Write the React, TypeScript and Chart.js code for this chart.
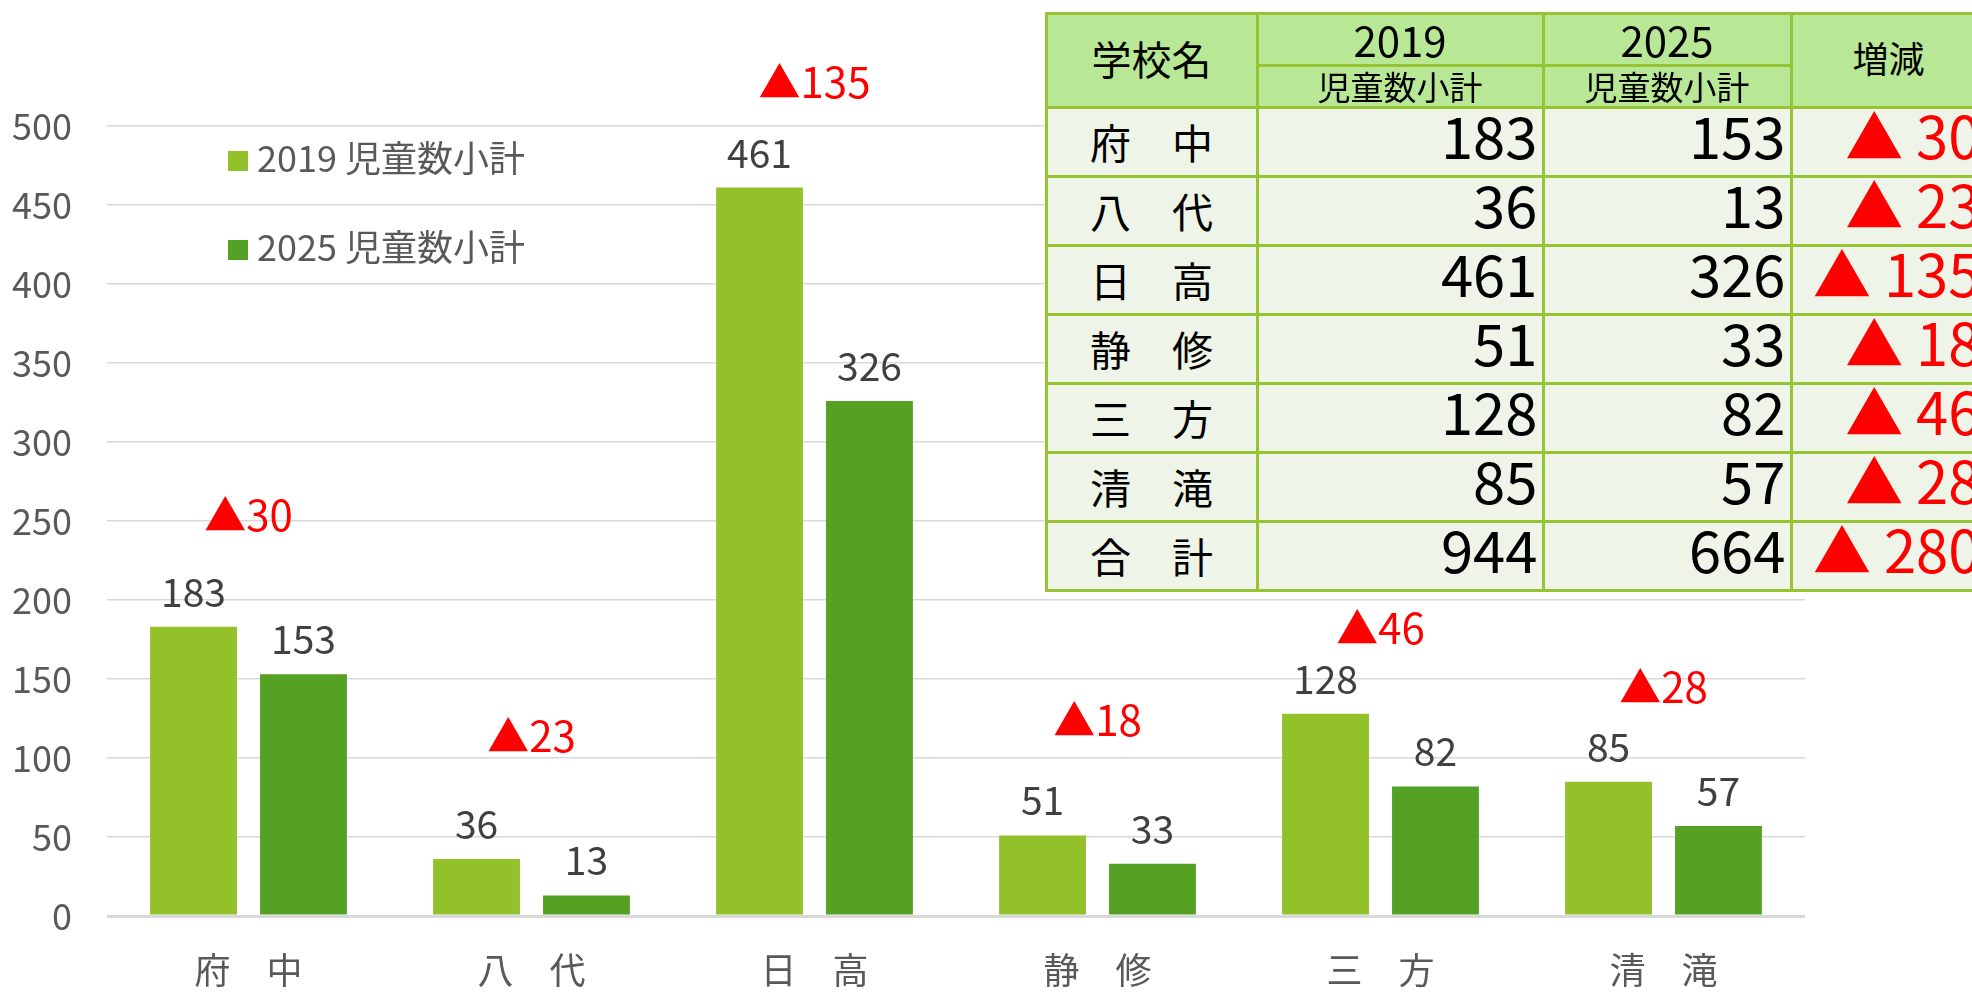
import React, { useEffect, useRef } from "react";
import { Chart, registerables } from "chart.js";

Chart.register(...registerables);

const categories = ["府　中", "八　代", "日　高", "静　修", "三　方", "清　滝"];
const series2019 = [183, 36, 461, 51, 128, 85];
const series2025 = [153, 13, 326, 33, 82, 57];
const seriesLabels = ["2019 児童数小計", "2025 児童数小計"];
const seriesColors = ["#92C12A", "#55A124"];
const deltaValues = [30, 23, 135, 18, 46, 28];
// value level (in axis units) at which each ▲ note sits above its group
const deltaAnchor = [254, 114, 528, 124, 182, 145];
const yMin = 0;
const yMax = 500;
const yStep = 50;

const tableNames = [...categories, "合　計"];
const table2019 = [...series2019, 944];
const table2025 = [...series2025, 664];
const tableDelta = [...deltaValues, 280];
const headerName = "学校名";
const headerYears = ["2019", "2025"];
const headerSub = "児童数小計";
const headerDelta = "増減";

const FONT = '"Noto Sans CJK JP", "Noto Sans", sans-serif';

const annotationPlugin = {
  id: "annotations",
  afterDatasetsDraw(chart: any) {
    const ctx = chart.ctx;
    ctx.save();
    // value labels
    ctx.font = `39px ${FONT}`;
    ctx.fillStyle = "#404040";
    ctx.textAlign = "center";
    ctx.textBaseline = "alphabetic";
    chart.data.datasets.forEach((ds: any, di: number) => {
      const meta = chart.getDatasetMeta(di);
      meta.data.forEach((bar: any, i: number) => {
        ctx.fillText(String(ds.data[i]), bar.x, bar.y - 20);
      });
    });
    // delta notes
    const xs = chart.scales.x;
    const ys = chart.scales.y;
    ctx.font = `42px ${FONT}`;
    ctx.fillStyle = "#FF0000";
    ctx.textBaseline = "middle";
    deltaValues.forEach((d, i) => {
      ctx.fillText("▲" + d, xs.getPixelForValue(i), ys.getPixelForValue(deltaAnchor[i]));
    });
    // legend
    ctx.font = `36px ${FONT}`;
    ctx.textAlign = "left";
    ctx.textBaseline = "alphabetic";
    chart.data.datasets.forEach((ds: any, di: number) => {
      const top = 151 + di * 89;
      ctx.fillStyle = ds.backgroundColor;
      ctx.fillRect(228, top, 20, 20);
      ctx.fillStyle = "#595959";
      ctx.fillText(ds.label, 257, top + 21);
    });
    ctx.restore();
  },
};

const colX = [1046, 1257, 1543, 1791, 1986];
const headY = [13, 65, 107];
const rowH = 69;
const BORDER = "#96C433";
const HEAD_BG = "#B8E896";
const BODY_BG = "#EEF4E8";

function Cell(props: any) {
  const { x0, x1, y0, y1, bg, children, style } = props;
  return (
    <div
      style={{
        position: "absolute",
        left: x0 + 1.5,
        top: y0 + 1.5,
        width: x1 - x0 - 3,
        height: y1 - y0 - 3,
        background: bg,
        display: "flex",
        alignItems: "center",
        justifyContent: "center",
        boxSizing: "border-box",
        color: "#000",
        fontFamily: FONT,
        whiteSpace: "nowrap",
        lineHeight: 1,
        ...style,
      }}
    >
      {children}
    </div>
  );
}

function DataTable() {
  const bodyTop = headY[2];
  const bottom = bodyTop + rowH * tableNames.length;
  const cells: any[] = [];
  cells.push(
    <Cell key="hn" x0={colX[0]} x1={colX[1]} y0={headY[0]} y1={headY[2]} bg={HEAD_BG} style={{ fontSize: 40, paddingBottom: 4 }}>
      {headerName}
    </Cell>
  );
  headerYears.forEach((yr, k) => {
    cells.push(
      <Cell key={"hy" + k} x0={colX[1 + k]} x1={colX[2 + k]} y0={headY[0]} y1={headY[1]} bg={HEAD_BG} style={{ fontSize: 42 }}>
        {yr}
      </Cell>
    );
    cells.push(
      <Cell key={"hs" + k} x0={colX[1 + k]} x1={colX[2 + k]} y0={headY[1]} y1={headY[2]} bg={HEAD_BG} style={{ fontSize: 33 }}>
        {headerSub}
      </Cell>
    );
  });
  cells.push(
    <Cell key="hd" x0={colX[3]} x1={colX[4]} y0={headY[0]} y1={headY[2]} bg={HEAD_BG} style={{ fontSize: 36, paddingBottom: 6 }}>
      {headerDelta}
    </Cell>
  );
  tableNames.forEach((name, r) => {
    const y0 = bodyTop + r * rowH;
    const y1 = y0 + rowH;
    cells.push(
      <Cell key={"n" + r} x0={colX[0]} x1={colX[1]} y0={y0} y1={y1} bg={BODY_BG} style={{ fontSize: 41 }}>
        {name}
      </Cell>
    );
    const numStyle = { fontSize: 58, justifyContent: "flex-end", paddingRight: 4, paddingBottom: 16 };
    cells.push(
      <Cell key={"a" + r} x0={colX[1]} x1={colX[2]} y0={y0} y1={y1} bg={BODY_BG} style={numStyle}>
        {table2019[r]}
      </Cell>
    );
    cells.push(
      <Cell key={"b" + r} x0={colX[2]} x1={colX[3]} y0={y0} y1={y1} bg={BODY_BG} style={numStyle}>
        {table2025[r]}
      </Cell>
    );
    cells.push(
      <Cell key={"d" + r} x0={colX[3]} x1={colX[4]} y0={y0} y1={y1} bg={BODY_BG} style={{ ...numStyle, color: "#FF0000" }}>
        {"▲ " + tableDelta[r]}
      </Cell>
    );
  });
  return (
    <>
      <div
        style={{
          position: "absolute",
          left: colX[0] - 1.5,
          top: headY[0] - 1.5,
          width: colX[4] - colX[0] + 3,
          height: bottom - headY[0] + 3,
          background: BORDER,
        }}
      />
      {cells}
    </>
  );
}

export default function App() {
  const canvasRef = useRef<HTMLCanvasElement | null>(null);

  useEffect(() => {
    if (!canvasRef.current) return;
    const chart = new Chart(canvasRef.current, {
      type: "bar",
      data: {
        labels: categories,
        datasets: [
          {
            label: seriesLabels[0],
            data: series2019,
            backgroundColor: seriesColors[0],
            categoryPercentage: 0.777,
            barPercentage: 0.79,
          },
          {
            label: seriesLabels[1],
            data: series2025,
            backgroundColor: seriesColors[1],
            categoryPercentage: 0.777,
            barPercentage: 0.79,
          },
        ],
      },
      options: {
        responsive: false,
        animation: false,
        layout: { padding: { left: 0, top: 126, right: 167, bottom: 0 } },
        plugins: {
          legend: { display: false },
          tooltip: { enabled: false },
        },
        scales: {
          x: {
            grid: { display: false, drawTicks: false },
            border: { display: false },
            ticks: {
              color: "#595959",
              font: { family: FONT, size: 36 },
              padding: 33,
              maxRotation: 0,
            },
            afterFit: (axis: any) => {
              axis.height = 76;
            },
          },
          y: {
            min: yMin,
            max: yMax,
            grid: {
              color: "#D9D9D9",
              lineWidth: (c: any) => (c.tick && c.tick.value === 0 ? 3 : 1.5),
              drawTicks: false,
            },
            border: { display: false },
            ticks: {
              stepSize: yStep,
              color: "#595959",
              font: { family: FONT, size: 36 },
              padding: 35,
            },
            afterFit: (axis: any) => {
              axis.width = 107;
            },
          },
        },
      },
      plugins: [annotationPlugin],
    });
    return () => chart.destroy();
  }, []);

  return (
    <div
      style={{
        position: "absolute",
        left: 0,
        top: 0,
        width: 1972,
        height: 992,
        overflow: "hidden",
        background: "#ffffff",
      }}
    >
      <canvas ref={canvasRef} width={1972} height={992} style={{ position: "absolute", left: 0, top: 0 }} />
      <DataTable />
    </div>
  );
}
